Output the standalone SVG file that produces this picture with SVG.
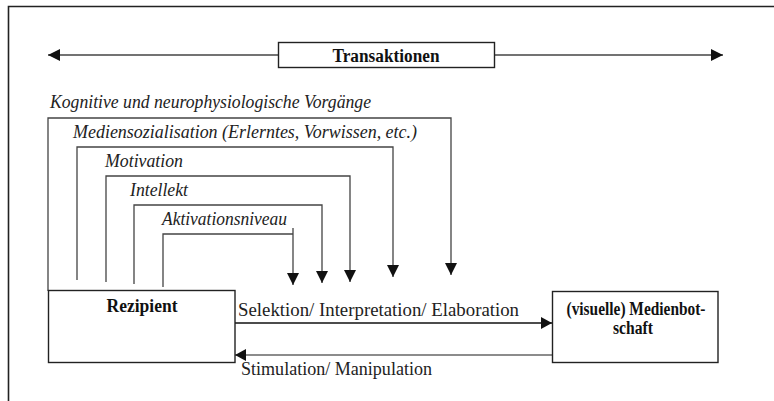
<svg xmlns="http://www.w3.org/2000/svg" width="774" height="401" viewBox="0 0 774 401">
<defs>
<style>
.frame{fill:none;stroke:#222;stroke-width:1.6}
.box{fill:#fff;stroke:#222;stroke-width:1.4}
.ln{fill:none;stroke:#444;stroke-width:1.3}
.dk{fill:none;stroke:#111;stroke-width:1.5}
.gr{fill:none;stroke:#666;stroke-width:1.5}
.head{fill:#111;stroke:none}
.it{font-family:"Liberation Serif",serif;font-style:italic;font-size:18px;fill:#222}
.rm{font-family:"Liberation Serif",serif;font-size:19px;fill:#222}
.bd{font-family:"Liberation Serif",serif;font-weight:bold;font-size:18px;fill:#111}
</style>
<marker id="ah" viewBox="0 0 12 12" refX="12" refY="6" markerWidth="12" markerHeight="12" markerUnits="userSpaceOnUse" orient="auto">
<path d="M0,0 L12,6 L0,12 Z" class="head"/>
</marker>
<marker id="ahs" viewBox="0 0 11 12" refX="11" refY="6" markerWidth="11" markerHeight="12" markerUnits="userSpaceOnUse" orient="auto">
<path d="M0,0 L11,6 L0,12 Z" class="head"/>
</marker>
</defs>
<rect width="774" height="401" fill="#fff"/>
<path class="frame" d="M8.5,401 V6.5 H774"/>

<g id="connectors">
<path class="ln" d="M278,55 H48" marker-end="url(#ah)"/>
<path class="ln" d="M495,55 H723" marker-end="url(#ah)"/>
<path class="ln" d="M48,291 V118 H451 V275" marker-end="url(#ah)"/>
<path class="ln" d="M77,280 V147 H393 V277" marker-end="url(#ah)"/>
<path class="ln" d="M106,282 V176 H350 V282" marker-end="url(#ah)"/>
<path class="ln" d="M134,284 V205 H322 V283" marker-end="url(#ah)"/>
<path class="ln" d="M163,287 V234 H293"/>
<path class="ln" d="M293,228 V285" marker-end="url(#ah)"/>
<path class="dk" d="M235,323 H552" marker-end="url(#ahs)"/>
<path class="gr" d="M552,355 H235" marker-end="url(#ahs)"/>
<text class="it" x="50" y="108" textLength="321" lengthAdjust="spacingAndGlyphs">Kognitive und neurophysiologische Vorgänge</text>
<text class="it" x="73" y="138" textLength="344" lengthAdjust="spacingAndGlyphs">Mediensozialisation (Erlerntes, Vorwissen, etc.)</text>
<text class="it" x="105" y="167" textLength="78" lengthAdjust="spacingAndGlyphs">Motivation</text>
<text class="it" x="130" y="196" textLength="58" lengthAdjust="spacingAndGlyphs">Intellekt</text>
<text class="it" x="162" y="225" textLength="125" lengthAdjust="spacingAndGlyphs">Aktivationsniveau</text>
<text class="rm" x="238" y="316" textLength="281" lengthAdjust="spacingAndGlyphs">Selektion/ Interpretation/ Elaboration</text>
<text class="rm" x="241" y="375" textLength="191" lengthAdjust="spacingAndGlyphs">Stimulation/ Manipulation</text>
</g>

<g id="transaktionen">
<rect class="box" x="278.5" y="42.5" width="216" height="25"/>
<text class="bd" x="386" y="61.5" text-anchor="middle" textLength="107" lengthAdjust="spacingAndGlyphs">Transaktionen</text>
</g>

<g id="rezipient">
<rect class="box" x="48.5" y="290.5" width="186.5" height="72"/>
<text class="bd" x="142" y="312" text-anchor="middle" textLength="71" lengthAdjust="spacingAndGlyphs">Rezipient</text>
</g>

<g id="medienbotschaft">
<rect class="box" x="552.5" y="291.5" width="165.5" height="71"/>
<text class="bd" x="636" y="315" text-anchor="middle" textLength="139" lengthAdjust="spacingAndGlyphs">(visuelle) Medienbot-</text>
<text class="bd" x="633" y="334" text-anchor="middle" textLength="40" lengthAdjust="spacingAndGlyphs">schaft</text>
</g>
</svg>
